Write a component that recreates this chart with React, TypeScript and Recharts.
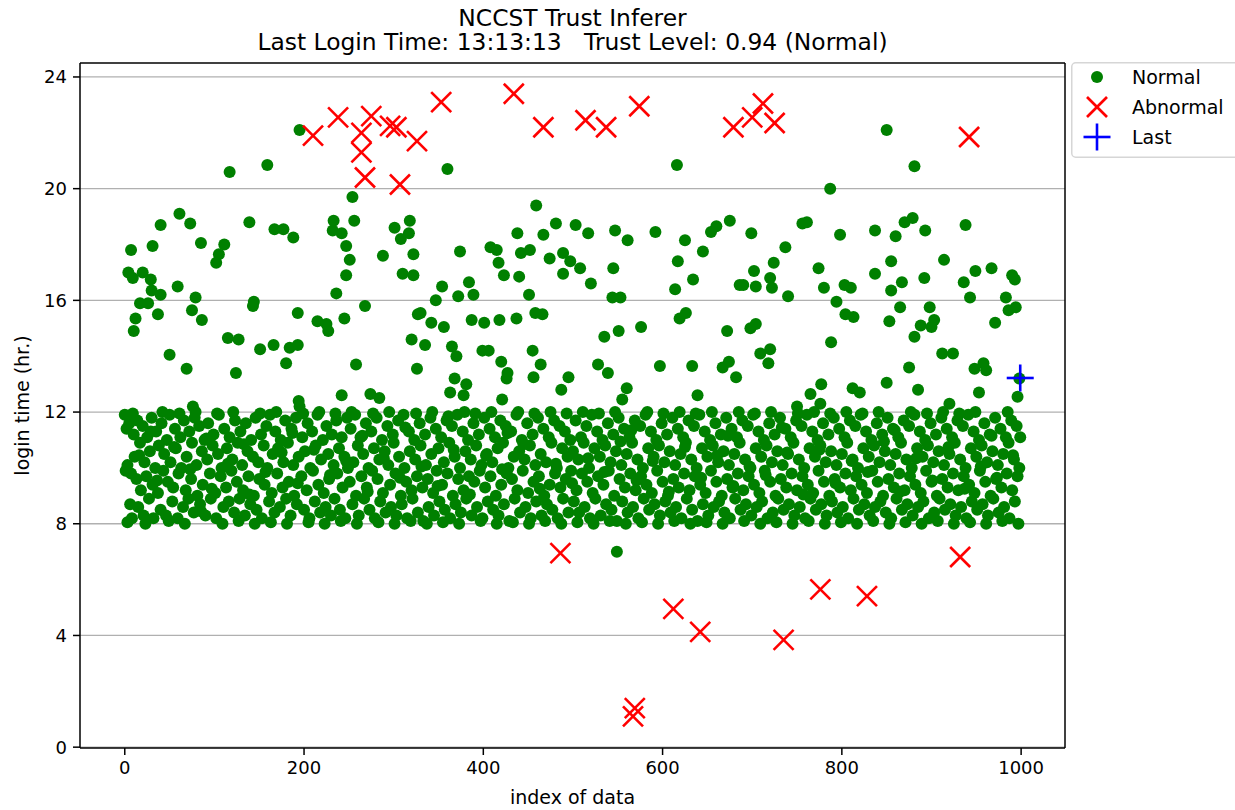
import React from 'react';
import { ScatterChart, Scatter, XAxis, YAxis, ReferenceLine, Legend, Label } from 'recharts';

// ---------- data ----------
const titleLines = ['NCCST Trust Inferer', 'Last Login Time: 13:13:13   Trust Level: 0.94 (Normal)'];
const legendLabels = ['Normal', 'Abnormal', 'Last'];
const xAxisLabel = 'index of data';
const yAxisLabel = 'login time (hr.)';
const xTicks = [0, 200, 400, 600, 800, 1000];
const yTicks = [0, 4, 8, 12, 16, 20, 24];
const xDomain: [number, number] = [-49.95, 1048.95];
const yDomain: [number, number] = [-0.03, 24.5];

// normal logins outside the dense 8-12 band (index, hour)
const normalUpperLeft: number[][] = [
  [195,22.1],[117,20.6],[159,20.85],[254,19.7],[61,19.1],[40,18.7],[73,18.75],[139,18.8],[167,18.55],[177,18.55],
  [188,18.25],[233,18.85],[232,18.5],[242,18.4],[256,18.85],[247,17.95],[251,17.45],[247,16.9],[236,16.25],[268,15.8],
  [245,15.35],[318,18.85],[317,18.4],[308,18.2],[301,18.6],[322,17.65],[310,16.95],[322,16.9],[288,17.6],[327,15.5],
  [320,14.6],[326,13.55],[7,17.8],[31,17.95],[85,18.05],[111,18.0],[105,17.65],[102,17.35],[4,17.0],[9,16.8],
  [20,17.0],[29,16.75],[30,16.35],[40,16.2],[17,15.9],[26,15.9],[37,15.5],[12,15.35],[10,14.9],[59,16.5],
  [79,16.1],[75,15.65],[86,15.3],[50,14.05],[69,13.55],[115,14.65],[127,14.6],[124,13.4],[144,15.95],[143,15.8],
  [193,15.55],[215,15.25],[225,15.15],[227,14.9],[151,14.25],[166,14.4],[184,14.3],[193,14.4],[180,13.75],[258,13.7],
  [242,12.6],[274,12.65],[284,12.5],[194,12.4],[76,12.2],
];
const normalUpperMid: number[][] = [
  [360,20.7],[616,20.85],[459,19.4],[374,17.75],[408,17.9],[415,17.8],[417,17.35],[423,16.9],[438,18.4],[442,17.7],
  [452,17.8],[440,16.85],[467,18.35],[481,18.75],[503,18.7],[517,18.4],[474,17.5],[489,17.7],[497,17.4],[508,17.15],
  [489,16.95],[520,16.6],[547,18.5],[561,18.15],[545,17.15],[544,16.1],[553,16.1],[592,18.45],[625,18.15],[617,17.4],
  [634,16.75],[645,17.75],[654,18.45],[660,18.65],[675,18.85],[614,16.4],[686,16.55],[354,16.5],[347,16.0],[384,16.65],
  [372,16.15],[389,16.2],[451,16.2],[330,15.55],[342,15.2],[356,15.05],[387,15.3],[401,15.2],[418,15.3],[437,15.35],
  [458,15.55],[466,15.5],[335,14.4],[365,14.35],[370,14.0],[399,14.2],[406,14.2],[420,13.8],[427,13.4],[426,13.2],
  [455,14.2],[464,13.7],[456,13.25],[368,13.2],[381,13.0],[363,12.7],[378,12.6],[495,13.25],[487,12.8],[535,14.7],
  [551,14.9],[576,15.05],[528,13.7],[539,13.4],[560,12.85],[597,13.65],[633,13.65],[619,15.35],[626,15.55],[672,14.9],
  [667,13.6],[674,13.8],[682,13.25],[639,12.6],[421,12.45],[555,12.45],[549,7.0],
];
const normalUpperRight: number[][] = [
  [850,22.1],[881,20.8],[787,20.0],[699,18.4],[756,18.75],[761,18.8],[798,18.35],[737,17.9],[724,17.35],[702,17.05],
  [690,16.55],[704,16.5],[720,16.8],[722,16.45],[740,16.15],[837,18.5],[870,18.8],[879,18.95],[860,18.3],[893,18.5],
  [938,18.7],[774,17.15],[780,16.45],[803,16.55],[810,16.45],[794,15.95],[837,16.95],[855,17.4],[867,16.65],[855,16.35],
  [892,16.8],[914,17.45],[936,16.65],[949,17.05],[967,17.15],[990,16.9],[993,16.75],[943,16.1],[983,16.1],[986,15.65],
  [994,15.75],[865,15.75],[898,15.75],[804,15.5],[813,15.4],[853,15.25],[888,15.1],[900,15.05],[903,15.3],[881,14.7],
  [971,15.2],[698,15.0],[704,15.15],[709,14.1],[720,14.25],[718,13.75],[788,14.5],[875,13.6],[850,13.05],[885,12.8],
  [912,14.1],[924,14.1],[948,13.55],[958,13.75],[961,13.5],[953,12.7],[777,13.0],[765,12.65],[812,12.85],[820,12.7],
  [996,12.55],[998,13.2],[920,12.3],[776,12.3],[750,12.2],
];

// dense 8-12 h band
const bandA: number[][] = [
  [0,11.9],[1,9.9],[2,11.4],[3,10.1],[5,11.6],[6,8.7],[7,9.8],[8,8.2],[10,11.2],[11,10.4],
  [13,9.6],[14,11.7],[15,8.6],[17,10.9],[18,9.2],[20,11.5],[21,8.3],[22,10.2],[24,9.7],[25,11.1],
  [27,8.9],[28,10.6],[30,11.8],[31,9.4],[32,8.2],[34,10.0],[35,11.3],[37,9.1],[38,10.8],[40,8.5],
  [41,11.6],[43,9.9],[44,10.5],[46,8.3],[47,11.0],[48,9.5],[50,11.9],[51,10.2],[53,8.8],[54,9.3],
  [56,11.4],[57,10.7],[59,8.2],[60,9.8],[62,11.1],[63,10.0],[65,8.6],[66,11.7],[68,9.2],[69,10.4],
  [71,8.9],[72,11.3],[74,9.6],[75,10.9],[77,8.4],[78,11.8],[80,10.1],[81,9.0],[83,11.5],[84,8.7],
  [86,10.6],[87,9.4],[89,11.0],[90,8.3],[92,10.3],[93,11.6],[95,9.8],[96,8.9],[98,10.8],[99,11.2],
  [101,9.1],[102,8.2],[104,10.5],[105,11.9],[107,9.7],[108,10.0],[110,8.6],[111,11.4],[113,9.3],[114,10.7],
  [116,8.8],[117,11.1],[119,9.9],[120,10.3],[122,8.4],[123,11.7],[125,9.5],[126,10.9],[128,8.9],[129,11.3],
  [131,10.1],[132,9.2],[134,8.3],[135,11.6],[137,10.6],[138,9.7],[140,8.7],[141,11.0],[143,10.4],[144,9.0],
  [146,11.8],[147,8.5],[149,10.2],[150,9.6],[152,11.2],[153,8.2],[155,10.8],[156,9.4],[158,11.5],[159,10.0],
  [161,8.8],[162,11.9],[164,9.1],[165,10.5],[167,8.4],[168,11.3],[170,9.8],[171,10.7],[173,8.6],[174,11.0],
  [176,9.3],[177,10.2],[179,11.7],[180,8.9],[182,10.9],[183,9.5],[185,8.3],[186,11.4],[188,10.1],[189,9.0],
  [191,11.8],[192,8.7],[194,10.4],[195,12.2],[197,9.7],[198,11.1],[200,8.5],[201,10.6],[203,9.2],[204,11.6],
  [206,8.2],[207,10.0],[209,11.3],[210,9.9],[212,8.8],[213,10.8],[215,11.9],[216,9.4],[218,8.4],[219,10.3],
  [221,11.0],[222,9.1],[224,8.6],[225,11.5],[227,10.5],[228,9.6],[230,8.3],[231,11.2],[233,10.1],[234,8.9],
  [236,11.7],[237,9.8],[239,10.7],[240,8.5],[242,11.1],[243,9.3],[245,10.4],[246,8.2],[248,11.8],[249,10.0],
];
const bandB: number[][] = [
  [251,9.5],[252,11.4],[254,8.7],[255,10.2],[257,11.9],[258,9.0],[260,10.8],[261,8.3],[263,11.1],[264,9.7],
  [266,10.5],[267,8.9],[269,11.6],[270,9.3],[272,10.0],[273,8.5],[275,11.3],[276,9.9],[278,10.7],[279,8.2],
  [281,11.8],[282,9.6],[284,10.3],[285,8.8],[287,11.0],[288,9.1],[290,10.6],[291,8.4],[293,11.5],[294,10.1],
  [296,9.4],[297,8.6],[299,11.2],[300,10.9],[302,9.8],[303,8.3],[305,11.7],[306,10.4],[308,9.0],[309,8.7],
  [311,11.9],[312,10.0],[314,9.5],[315,8.2],[317,11.3],[318,10.6],[320,9.2],[321,8.9],[323,11.0],[324,10.3],
  [326,9.7],[327,8.4],[329,11.6],[330,10.8],[332,9.3],[333,8.1],[335,11.2],[336,10.1],[338,9.6],[339,8.6],
  [341,11.8],[342,10.5],[344,9.1],[345,8.3],[347,11.4],[348,9.9],[350,10.7],[351,8.8],[353,11.1],[354,9.4],
  [356,10.2],[357,8.5],[359,11.7],[360,9.8],[362,10.9],[363,8.2],[365,11.5],[366,9.0],[368,10.4],[369,8.7],
  [371,11.9],[372,9.6],[374,10.0],[375,8.4],[377,11.3],[378,9.2],[380,10.6],[381,8.9],[383,11.0],[384,9.7],
  [386,10.3],[387,8.3],[389,11.6],[390,9.5],[392,10.8],[393,8.6],[395,11.2],[396,9.9],[398,10.1],[399,8.2],
  [401,11.8],[402,9.3],[404,10.5],[405,8.8],[407,11.4],[408,9.7],[410,10.2],[411,8.5],[413,11.1],[414,9.0],
  [416,10.7],[417,8.3],[419,11.7],[420,9.4],[422,10.9],[423,8.7],[425,11.5],[426,9.8],[428,10.0],[429,8.1],
  [431,11.3],[432,9.6],[434,10.4],[435,8.9],[437,11.9],[438,9.2],[440,10.6],[441,8.4],[443,11.0],[444,9.9],
  [446,10.3],[447,8.6],[449,11.6],[450,9.1],[452,10.8],[453,8.2],[455,11.2],[456,9.5],[458,10.1],[459,8.8],
  [461,11.8],[462,9.7],[464,10.5],[465,8.3],[467,11.4],[468,9.0],[470,10.2],[471,8.7],[473,11.1],[474,9.4],
  [476,10.9],[477,8.5],[479,11.7],[480,9.8],[482,10.0],[483,8.2],[485,11.5],[486,9.3],[488,10.7],[489,8.9],
  [491,11.3],[492,9.6],[494,10.4],[495,8.4],[497,11.0],[498,9.9],
];
const bandC: number[][] = [
  [500,10.6],[501,8.8],[503,11.7],[504,9.2],[506,10.3],[507,8.4],[509,11.1],[510,9.8],[512,10.9],[513,8.6],
  [515,11.5],[516,9.5],[518,10.0],[519,8.2],[521,11.9],[522,9.1],[524,10.7],[525,8.9],[527,11.3],[528,9.7],
  [530,10.4],[531,8.3],[533,11.0],[534,9.4],[536,10.8],[537,8.7],[539,11.6],[540,9.9],[542,10.2],[543,8.5],
  [545,11.2],[546,9.0],[548,10.6],[549,8.1],[551,11.8],[552,9.6],[554,10.1],[555,8.8],[557,11.4],[558,9.3],
  [560,10.5],[561,8.4],[563,11.1],[564,9.8],[566,10.9],[567,8.6],[569,11.7],[570,9.2],[572,10.3],[573,8.2],
  [575,11.5],[576,9.7],[578,10.0],[579,8.9],[581,11.9],[582,9.4],[584,10.7],[585,8.5],[587,11.3],[588,9.1],
  [590,10.4],[591,8.7],[593,11.0],[594,9.9],[596,10.8],[597,8.3],[599,11.6],[600,9.5],[602,10.2],[603,8.8],
  [605,11.2],[606,9.0],[608,10.6],[609,8.4],[611,11.8],[612,9.6],[614,10.1],[615,8.6],[617,11.4],[618,9.3],
  [620,10.5],[621,8.2],[623,11.1],[624,9.8],[626,10.9],[627,8.9],[629,11.7],[630,9.2],[632,10.3],[633,8.5],
  [635,11.5],[636,9.7],[638,10.0],[639,8.1],[641,11.9],[642,9.4],[644,10.7],[645,8.7],[647,11.3],[648,9.1],
  [650,10.4],[651,8.3],[653,11.0],[654,9.9],[656,10.8],[657,8.6],[659,11.6],[660,9.5],[662,10.2],[663,8.8],
  [665,11.2],[666,9.0],[668,10.6],[669,8.4],[671,11.8],[672,9.6],[674,10.1],[675,8.2],[677,11.4],[678,9.3],
  [680,10.5],[681,8.9],[683,11.1],[684,9.8],[686,10.9],[687,8.5],[689,11.7],[690,9.2],[692,10.3],[693,8.7],
  [695,11.5],[696,9.7],[698,10.0],[699,8.3],[701,11.9],[702,9.4],[704,10.7],[705,8.6],[707,11.3],[708,9.1],
  [710,10.4],[711,8.8],[713,11.0],[714,9.9],[716,10.8],[717,8.2],[719,11.6],[720,9.5],[722,10.2],[723,8.4],
  [725,11.2],[726,9.0],[728,10.6],[729,8.9],[731,11.8],[732,9.6],[734,10.1],[735,8.5],[737,11.4],[738,9.3],
  [740,10.5],[741,8.7],[743,11.1],[744,9.8],[746,10.9],[747,8.3],[749,11.7],
];
const bandD: number[][] = [
  [750,9.2],[752,10.3],[753,8.6],[755,11.5],[756,9.7],[758,10.0],[759,8.2],[761,11.9],[762,9.4],[764,10.7],
  [765,8.9],[767,11.3],[768,9.1],[770,10.4],[771,8.5],[773,11.0],[774,9.9],[776,10.8],[777,8.7],[779,11.6],
  [780,9.5],[782,10.2],[783,8.3],[785,11.2],[786,9.0],[788,10.6],[789,8.8],[791,11.8],[792,9.6],[794,10.1],
  [795,8.4],[797,11.4],[798,9.3],[800,10.5],[801,8.6],[803,11.1],[804,9.8],[806,10.9],[807,8.2],[809,11.7],
  [810,9.2],[812,10.3],[813,8.9],[815,11.5],[816,9.7],[818,10.0],[819,8.5],[821,11.9],[822,9.4],[824,10.7],
  [825,8.7],[827,11.3],[828,9.1],[830,10.4],[831,8.3],[833,11.0],[834,9.9],[836,10.8],[837,8.6],[839,11.6],
  [840,9.5],[842,10.2],[843,8.8],[845,11.2],[846,9.0],[848,10.6],[849,8.4],[851,11.8],[852,9.6],[854,10.1],
  [855,8.2],[857,11.4],[858,9.3],[860,10.5],[861,8.9],[863,11.1],[864,9.8],[866,10.9],[867,8.5],[869,11.7],
  [870,9.2],[872,10.3],[873,8.7],[875,11.5],[876,9.7],[878,10.0],[879,8.3],[881,11.9],[882,9.4],[884,10.7],
  [885,8.6],[887,11.3],[888,9.1],[890,10.4],[891,8.8],[893,11.0],[894,9.9],[896,10.8],[897,8.2],[899,11.6],
  [900,9.5],[902,10.2],[903,8.4],[905,11.2],[906,9.0],[908,10.6],[909,8.9],[911,11.8],[912,9.6],[914,10.1],
  [915,8.5],[917,11.4],[918,9.3],[920,10.5],[921,8.7],[923,11.1],[924,9.8],[926,10.9],[927,8.3],[929,11.7],
  [930,9.2],[932,10.3],[933,8.6],[935,11.5],[936,9.7],[938,10.0],[939,8.2],[941,11.9],[942,9.4],[944,10.7],
  [945,8.8],[947,11.3],[948,9.1],[950,10.4],[951,8.5],[953,11.0],[954,9.9],[956,10.8],[957,8.7],[959,11.6],
  [960,9.5],[962,10.2],[963,8.3],[965,11.2],[966,9.0],[968,10.6],[969,8.9],[971,11.8],[972,9.6],[974,10.1],
  [975,8.4],[977,11.4],[978,9.3],[980,10.5],[981,8.6],[983,11.1],[984,9.8],[986,10.9],[987,8.2],[989,11.7],
  [990,9.2],[992,10.3],[993,8.8],[995,11.5],[996,9.7],[998,10.0],[999,11.1],
];
const bandEdges: number[][] = [
  [3,8.05],[9,11.95],[16,10.45],[23,8.0],[29,11.3],[36,9.55],[42,12.0],[49,8.1],[55,10.75],[61,11.95],
  [67,8.0],[73,9.95],[79,12.0],[85,8.45],[91,11.05],[97,9.25],[103,11.95],[109,8.0],[115,10.15],[121,12.0],
  [127,8.1],[133,10.85],[139,9.05],[145,8.0],[151,11.95],[157,9.85],[163,8.05],[169,12.0],[175,10.55],[181,8.0],
  [187,11.25],[193,9.45],[199,11.95],[205,8.05],[211,10.65],[217,12.0],[223,8.0],[229,9.75],[235,11.95],[241,8.1],
  [247,10.25],[253,12.0],[259,8.0],[265,11.15],[271,9.15],[277,11.95],[283,8.05],[289,10.35],[295,12.0],[301,8.0],
  [307,9.65],[313,11.45],[319,8.1],[325,11.95],[331,10.05],[337,8.0],[343,12.0],[349,9.35],[355,8.05],[361,11.85],
  [367,10.65],[373,8.0],[379,12.0],[385,9.05],[391,11.95],[397,8.1],[403,10.45],[409,12.0],[415,8.0],[421,9.95],
  [427,11.25],[433,8.05],[439,12.0],[445,10.85],[451,8.0],[457,11.95],[463,9.25],[469,8.1],[475,12.0],[481,10.15],
  [487,8.0],[493,11.95],[499,9.45],[505,8.05],[511,12.0],[517,10.35],[523,8.0],[529,11.95],[535,9.85],[541,8.1],
  [547,12.0],[553,10.95],[559,8.0],[565,11.35],[571,9.55],[577,8.05],[583,12.0],[589,10.25],[595,8.0],[601,11.95],
  [607,9.15],[613,8.1],[619,12.0],[625,10.75],[631,8.0],[637,11.95],[643,9.65],[649,8.05],[655,12.0],[661,10.45],
  [667,8.0],[673,11.15],[679,9.35],[685,12.0],[691,8.1],[697,10.05],[703,11.95],[709,8.0],[715,9.75],[721,12.0],
  [727,8.05],[733,11.45],[739,10.55],[745,8.0],[751,11.95],[757,9.05],[763,8.1],[769,12.0],[775,10.65],[781,8.0],
  [787,11.95],[793,9.45],[799,8.05],[805,12.0],[811,10.25],[817,8.0],[823,11.95],[829,9.85],[835,8.1],[841,12.0],
  [847,10.95],[853,8.0],[859,11.35],[865,9.15],[871,8.05],[877,12.0],[883,10.35],[889,8.0],[895,11.95],[901,9.55],
  [907,8.1],[913,12.0],[919,10.75],[925,8.0],[931,11.95],[937,9.25],[943,8.05],[949,12.0],[955,10.05],[961,8.0],
  [967,11.15],[973,9.65],[979,8.1],[985,12.0],[991,10.45],[997,8.0],
];

const abnormalPoints: number[][] = [
  [210,21.9],[238,22.55],[264,22.0],[264,21.3],[268,20.4],[275,22.6],[296,22.25],[303,22.2],[307,20.15],[326,21.7],
  [353,23.1],[434,23.4],[467,22.2],[514,22.45],[537,22.2],[574,22.95],[679,22.2],[700,22.55],[712,23.05],[725,22.35],
  [942,21.85],[486,6.95],[612,4.95],[642,4.13],[567,1.1],[569,1.4],[735,3.84],[776,5.65],[828,5.41],[932,6.81],
];
const lastPoint: number[][] = [[999, 13.22]];

// ---------- styling ----------
const FONT = '"DejaVu Sans", "Liberation Sans", sans-serif';
const GREEN = '#008000';
const RED = '#ff0000';
const BLUE = '#0000ff';

const toXY = (arr: number[][]) => arr.map(([x, y]) => ({ x, y }));
const normalData = toXY([
  ...normalUpperLeft, ...normalUpperMid, ...normalUpperRight,
  ...bandA, ...bandB, ...bandC, ...bandD, ...bandEdges,
]);
const abnormalData = toXY(abnormalPoints);
const lastData = toXY(lastPoint);

const DotShape = (p: any) => <circle cx={p.cx} cy={p.cy} r={6} fill={GREEN} />;
const CrossShape = (p: any) => {
  const s = 10;
  return (
    <g stroke={RED} strokeWidth={2.6}>
      <line x1={p.cx - s} y1={p.cy - s} x2={p.cx + s} y2={p.cy + s} />
      <line x1={p.cx - s} y1={p.cy + s} x2={p.cx + s} y2={p.cy - s} />
    </g>
  );
};
const PlusShape = (p: any) => {
  const s = 13.5;
  return (
    <g stroke={BLUE} strokeWidth={2.6}>
      <line x1={p.cx - s} y1={p.cy} x2={p.cx + s} y2={p.cy} />
      <line x1={p.cx} y1={p.cy - s} x2={p.cx} y2={p.cy + s} />
    </g>
  );
};

const LegendBox = () => (
  <svg width={164} height={96} style={{ display: 'block' }}>
    <rect x={0.75} y={0.75} width={180} height={94.5} rx={4} fill="#fff" stroke="#d6d6d6" strokeWidth={1.5} />
    {legendLabels.map((label, i) => {
      const cy = 15 + i * 30;
      const cx = 26;
      let marker;
      if (i === 0) marker = <circle cx={cx} cy={cy} r={6} fill={GREEN} />;
      else if (i === 1) marker = <CrossShape cx={cx} cy={cy} />;
      else marker = <PlusShape cx={cx} cy={cy} />;
      return (
        <g key={label}>
          {marker}
          <text x={61} y={cy} dominantBaseline="central" fontFamily={FONT} fontSize={19} fill="#000">{label}</text>
        </g>
      );
    })}
  </svg>
);

export default function App() {
  return (
    <div style={{ position: 'absolute', left: 0, top: 0, width: 1235, height: 810, overflow: 'hidden', background: '#fff', fontFamily: FONT }}>
      <div style={{ position: 'absolute', left: 0, width: 1145, top: 6, textAlign: 'center', fontSize: 23.4, lineHeight: '24px', whiteSpace: 'pre', color: '#000' }}>
        {titleLines.join('\n')}
      </div>
      <ScatterChart width={1235} height={810} margin={{ top: 63, right: 170, bottom: 0, left: 0 }} style={{ position: 'absolute', left: 0, top: 0 }}>
        <XAxis
          type="number" dataKey="x" domain={xDomain} ticks={xTicks} allowDataOverflow height={62}
          tickSize={7} tickMargin={6} axisLine={{ stroke: '#000', strokeWidth: 1.5 }} tickLine={{ stroke: '#000', strokeWidth: 1.5 }}
          tick={{ fill: '#000', fontSize: 18, fontFamily: FONT }}
        >
          <Label value={xAxisLabel} position="insideBottom" offset={6} style={{ fontSize: 19, fontFamily: FONT, fill: '#000' }} />
        </XAxis>
        <YAxis
          type="number" dataKey="y" domain={yDomain} ticks={yTicks} allowDataOverflow width={80}
          tickSize={7} tickMargin={6} axisLine={{ stroke: '#000', strokeWidth: 1.5 }} tickLine={{ stroke: '#000', strokeWidth: 1.5 }}
          tick={{ fill: '#000', fontSize: 18, fontFamily: FONT }}
        >
          <Label value={yAxisLabel} angle={-90} position="insideLeft" offset={22} style={{ fontSize: 19, fontFamily: FONT, fill: '#000', textAnchor: 'middle' }} />
        </YAxis>
        <Scatter name="Normal" data={normalData} shape={DotShape} isAnimationActive={false} />
        <Scatter name="Abnormal" data={abnormalData} shape={CrossShape} isAnimationActive={false} />
        <Scatter name="Last" data={lastData} shape={PlusShape} isAnimationActive={false} />
        {yTicks.map((t) => (
          <ReferenceLine key={t} y={t} stroke="#b0b0b0" strokeWidth={1.3} />
        ))}
        <ReferenceLine y={yDomain[1]} stroke="#000" strokeWidth={1.5} />
        <ReferenceLine x={xDomain[1]} stroke="#000" strokeWidth={1.5} />
        <Legend
          layout="vertical" align="center" verticalAlign="middle"
          content={() => <LegendBox />}
          wrapperStyle={{ left: 1071, top: 62, width: 164, height: 96 }}
        />
      </ScatterChart>
    </div>
  );
}
